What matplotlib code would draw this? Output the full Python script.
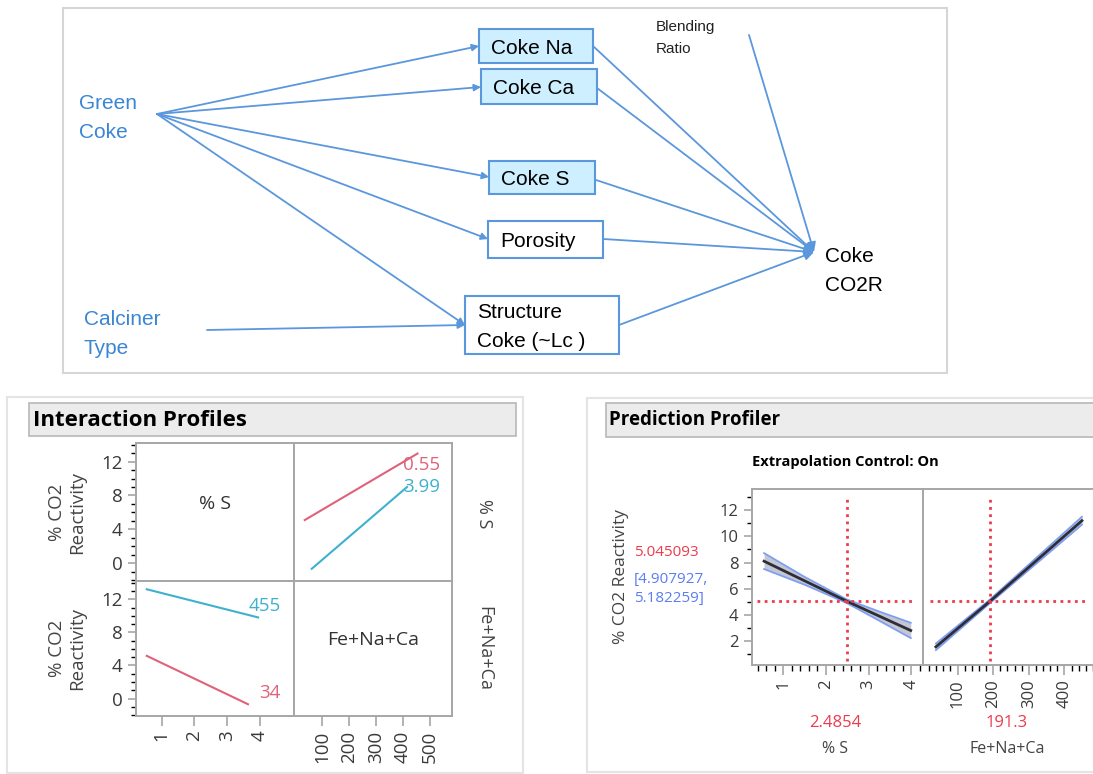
import numpy as np
import matplotlib.pyplot as plt
from matplotlib.patches import Rectangle
from matplotlib.ticker import MultipleLocator

# --- data ---
# path diagram
node_labels = ['Coke Na', 'Coke Ca', 'Coke S', 'Porosity', 'Structure\nCoke (~Lc )']
node_filled = [True, True, True, False, False]
source_labels = ['Green\nCoke', 'Calciner\nType']
extra_label = 'Blending\nRatio'
target_label = 'Coke\nCO2R'

# interaction profiles
s_levels = ['0.55', '3.99']
fe_levels = ['34', '455']
# top-right cell: x = Fe+Na+Ca, one line per %S level
ip_fe_x_low_s = [34, 455]
ip_y_low_s = [5.1, 12.95]
ip_fe_x_high_s = [60, 416]
ip_y_high_s = [-0.66, 9.0]
# bottom-left cell: x = %S, one line per Fe+Na+Ca level
ip_s_x_high_fe = [0.55, 3.95]
ip_y_high_fe = [13.2, 9.8]
ip_s_x_low_fe = [0.55, 3.64]
ip_y_low_fe = [5.16, -0.68]

# prediction profiler
pp_s_x = [0.55, 1.5, 2.4854, 3.25, 3.99]
pp_s_mean = [8.1, 6.6, 5.045, 3.9, 2.8]
pp_s_lo = [7.5, 6.3, 4.908, 3.55, 2.22]
pp_s_hi = [8.72, 6.9, 5.182, 4.25, 3.39]
pp_fe_x = [39, 191.3, 449]
pp_fe_mean = [1.55, 5.045, 11.2]
pp_fe_lo = [1.3, 4.908, 10.9]
pp_fe_hi = [1.8, 5.182, 11.5]
pred_value = '5.045093'
pred_ci = '[4.907927,\n5.182259]'
s_current = 2.4854
fe_current = 191.3

W, H = 1093, 774
fig = plt.figure(figsize=(W / 100, H / 100), dpi=100)
bg = fig.add_axes([0, 0, 1, 1])
bg.set_xlim(0, W)
bg.set_ylim(H, 0)
bg.axis('off')


def pax(x0, y0, x1, y1):
    return fig.add_axes([x0 / W, 1 - y1 / H, (x1 - x0) / W, (y1 - y0) / H])


arrow_c = '#5b97dc'
src_c = '#3a86d4'
dia_font = 'Liberation Sans'
jmp_font = 'Open Sans'

# ---------------- path diagram ----------------
bg.add_patch(Rectangle((63, 8), 884, 365, fill=False, ec='#d6d6d6', lw=1.5))
boxes = [(479, 29, 593, 63), (481, 69, 597, 104), (489, 161, 595, 194),
         (488, 221, 603, 258), (465, 296, 619, 354)]
text_x = [491, 493, 501, 500, 477]
for lab, filled, (x0, y0, x1, y1), tx in zip(node_labels, node_filled, boxes, text_x):
    bg.add_patch(Rectangle((x0, y0), x1 - x0, y1 - y0, fc='#cdefff' if filled else 'white',
                           ec=arrow_c, lw=1.5))
    bg.text(tx, (y0 + y1) / 2 + 2, lab, fontsize=15, family=dia_font, va='center',
            ha='left', linespacing=1.65)

bg.text(79, 118, source_labels[0], fontsize=15, family=dia_font, color=src_c,
        va='center', linespacing=1.65)
bg.text(84, 334, source_labels[1], fontsize=15, family=dia_font, color=src_c,
        va='center', linespacing=1.65)
bg.text(656, 38, extra_label, fontsize=11, family=dia_font, color='#222222',
        va='center', linespacing=1.65)
bg.text(825, 271, target_label, fontsize=15, family=dia_font, va='center',
        linespacing=1.65)

akw = dict(arrowstyle='-|>', color=arrow_c, lw=1.3, mutation_scale=10,
           shrinkA=0, shrinkB=0)
green = (157, 114)
for tip in [(479, 46), (481, 87), (489, 177), (488, 239), (465, 325)]:
    bg.annotate('', xy=tip, xytext=green, arrowprops=akw)
bg.annotate('', xy=(465, 325), xytext=(207, 330), arrowprops=akw)
co2r = (814, 252)
for start in [(593, 46), (597, 88), (596, 180), (603, 239), (619, 325), (749, 35)]:
    bg.annotate('', xy=co2r, xytext=start,
                arrowprops=dict(akw, mutation_scale=14))

# ---------------- panel frames ----------------
bg.add_patch(Rectangle((7, 397), 516, 376, fc='white', ec='#e4e4e4', lw=1.5))
bg.add_patch(Rectangle((29, 403), 487, 33, fc='#ececec', ec='#b8b8b8', lw=1.2))
bg.text(33, 420, 'Interaction Profiles', fontsize=16, fontweight='bold',
        family=jmp_font, va='center')
bg.add_patch(Rectangle((587, 398), 520, 374, fc='white', ec='#e4e4e4', lw=1.5))
bg.add_patch(Rectangle((606, 403), 500, 34, fc='#ececec', ec='#b8b8b8', lw=1.2))
bg.text(609, 420, 'Prediction Profiler', fontsize=13.5, fontweight='bold',
        family=jmp_font, va='center')
bg.text(845, 462, 'Extrapolation Control: On', fontsize=10.5, fontweight='bold',
        family=jmp_font, va='center', ha='center')

red = '#e0627a'
cyan = '#3fb0cf'
spine_c = '#a6a6a6'
tick_c = '#3a3a3a'


def style(ax, left, bottom, size):
    for sp in ax.spines.values():
        sp.set_color(spine_c)
        sp.set_linewidth(1.4)
    ax.tick_params(colors=spine_c, labelcolor=tick_c, labelsize=size, width=1.2)
    ax.tick_params(axis='y', which='major', length=6)
    ax.tick_params(axis='y', which='minor', length=3.5, width=1)
    ax.tick_params(axis='x', which='major', length=7, labelrotation=90)
    ax.tick_params(axis='x', which='minor', length=4, width=1)
    if not left:
        ax.tick_params(axis='y', which='both', left=False, labelleft=False)
    if not bottom:
        ax.tick_params(axis='x', which='both', bottom=False, labelbottom=False)
    for lab in ax.get_xticklabels() + ax.get_yticklabels():
        lab.set_family(jmp_font)


# ---------------- interaction profiles ----------------
xe = [136, 293.5, 452]
ye = [443, 581, 716]
ip_ylim = (-2.1, 14.2)
ip_xlims = [(0.22, 5.03), (-8, 584)]
ip_xticks = [[1, 2, 3, 4], [100, 200, 300, 400, 500]]
cells = {}
for r in range(2):
    for c in range(2):
        ax = pax(xe[c], ye[r], xe[c + 1], ye[r + 1])
        ax.set_xlim(*ip_xlims[c])
        ax.set_ylim(*ip_ylim)
        ax.set_xticks(ip_xticks[c])
        ax.set_yticks([0, 4, 8, 12])
        ax.yaxis.set_minor_locator(MultipleLocator(1))
        style(ax, c == 0, r == 1, 13.5)
        cells[(r, c)] = ax

cells[(0, 0)].text(0.5, 0.56, '% S', transform=cells[(0, 0)].transAxes,
                   ha='center', va='center', fontsize=14, family=jmp_font, color='#333333')
cells[(1, 1)].text(0.5, 0.56, 'Fe+Na+Ca', transform=cells[(1, 1)].transAxes,
                   ha='center', va='center', fontsize=14, family=jmp_font, color='#333333')

ax = cells[(0, 1)]
ax.plot(ip_fe_x_low_s, ip_y_low_s, color=red, lw=1.5)
ax.plot(ip_fe_x_high_s, ip_y_high_s, color=cyan, lw=1.5)
ax.text(401, 11.6, s_levels[0], color=red, fontsize=13.5, family=jmp_font, va='center')
ax.text(401, 9.05, s_levels[1], color=cyan, fontsize=13.5, family=jmp_font, va='center')

ax = cells[(1, 0)]
ax.plot(ip_s_x_high_fe, ip_y_high_fe, color=cyan, lw=1.5)
ax.plot(ip_s_x_low_fe, ip_y_low_fe, color=red, lw=1.5)
ax.text(4.65, 11.15, fe_levels[1], color=cyan, fontsize=13.5, family=jmp_font,
        va='center', ha='right')
ax.text(4.65, 0.68, fe_levels[0], color=red, fontsize=13.5, family=jmp_font,
        va='center', ha='right')

for yc in [(ye[0] + ye[1]) / 2, (ye[1] + ye[2]) / 2]:
    bg.text(67, yc, '% CO2\nReactivity', rotation=90, ha='center', va='center',
            fontsize=13.5, family=jmp_font, color='#444444', linespacing=1.2)
bg.text(484, 514, '% S', rotation=270, ha='center', va='center', fontsize=13,
        family=jmp_font, color='#444444')
bg.text(484, 649, 'Fe+Na+Ca', rotation=270, ha='center', va='center', fontsize=13,
        family=jmp_font, color='#444444')

# ---------------- prediction profiler ----------------
pred_red = '#ec3b4c'
pred_blue = '#5b7cf2'
pp_ylim = (0.16, 13.6)
pa = pax(751.7, 489.3, 922.7, 665)
pb = pax(922.7, 489.3, 1093, 665)
pa.set_xlim(0.26, 4.27)
pb.set_xlim(2, 480)
for ax in (pa, pb):
    ax.set_ylim(*pp_ylim)
    ax.set_yticks([2, 4, 6, 8, 10, 12])
    ax.yaxis.set_minor_locator(MultipleLocator(1))
pa.set_xticks([1, 2, 3, 4])
pa.xaxis.set_minor_locator(MultipleLocator(0.2))
pb.set_xticks([100, 200, 300, 400])
pb.xaxis.set_minor_locator(MultipleLocator(20))
style(pa, True, True, 12)
style(pb, False, True, 12)
pb.spines['right'].set_visible(False)

for ax, x, m, lo, hi in [(pa, pp_s_x, pp_s_mean, pp_s_lo, pp_s_hi),
                         (pb, pp_fe_x, pp_fe_mean, pp_fe_lo, pp_fe_hi)]:
    ax.fill_between(x, lo, hi, color='#c4c6d4', lw=0)
    ax.plot(x, lo, color='#7f9ff0', lw=1.3)
    ax.plot(x, hi, color='#7f9ff0', lw=1.3)
    ax.plot(x, m, color='#2e2e38', lw=2)

pa.axvline(s_current, ymin=0.02, ymax=0.958, color=pred_red, ls=(0, (1, 1.6)), lw=2)
pa.axhline(float(pred_value), xmin=0.031, xmax=0.943, color=pred_red,
           ls=(0, (1, 1.6)), lw=2)
pb.axvline(fe_current, ymin=0.02, ymax=0.958, color=pred_red, ls=(0, (1, 1.6)), lw=2)
pb.axhline(float(pred_value), xmin=0.043, xmax=0.96, color=pred_red,
           ls=(0, (1, 1.6)), lw=2)

bg.text(621, 577, '% CO2 Reactivity', rotation=90, ha='center', va='center',
        fontsize=12.5, family=jmp_font, color='#444444')
bg.text(634, 553, pred_value, color=pred_red, fontsize=11, family=jmp_font, va='center')
bg.text(634, 589, pred_ci, color=pred_blue, fontsize=11, family=jmp_font, va='center',
        linespacing=1.35)
bg.text(835, 723, '%.4f' % s_current, color=pred_red, fontsize=12, family=jmp_font,
        ha='center', va='center')
bg.text(835, 749, '% S', color='#444444', fontsize=11.5, family=jmp_font,
        ha='center', va='center')
bg.text(1007, 723, '%.1f' % fe_current, color=pred_red, fontsize=12, family=jmp_font,
        ha='center', va='center')
bg.text(1007, 749, 'Fe+Na+Ca', color='#444444', fontsize=11.5, family=jmp_font,
        ha='center', va='center')

fig.savefig('out.png', dpi=100)
